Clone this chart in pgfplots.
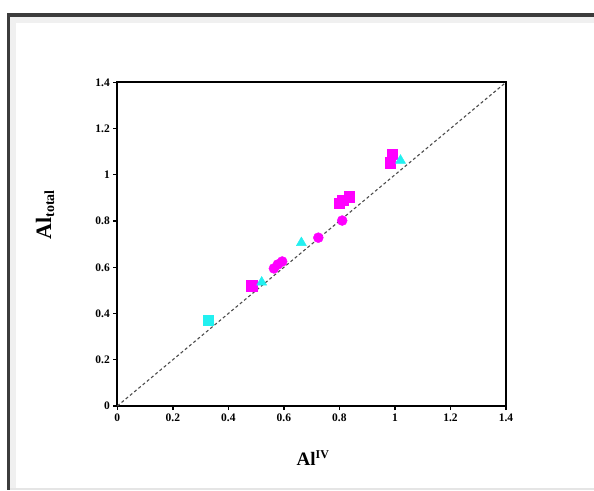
\documentclass[border=0pt]{standalone}
\usepackage{pgfplots}
\pgfplotsset{compat=1.18}
\usepackage{fontspec}
\setmainfont{Liberation Serif}
\definecolor{mag}{HTML}{FF00FF}
\definecolor{cya}{HTML}{22F0F0}
\definecolor{frame}{HTML}{3C3C3C}
\begin{document}
\begin{tikzpicture}[x=1pt,y=1pt]
\useasboundingbox (0,0) rectangle (594,490);
\fill[white] (0,0) rectangle (594,490);
% window frame
\fill[gray!12] (10,0) rectangle (16,473);
\fill[gray!12] (10,467) rectangle (594,473);
\fill[frame] (7,0) rectangle (10,477);
\fill[frame] (7,473) rectangle (594,477);
\fill[gray!20] (10,0) rectangle (594,2.5);
\begin{axis}[
  at={(117.3pt,84pt)}, anchor=south west,
  scale only axis, width=388.7pt, height=323.7pt,
  xmin=0, xmax=1.4, ymin=0, ymax=1.4,
  axis line style={line width=1.8pt},
  xtick={0,0.2,0.4,0.6,0.8,1,1.2,1.4},
  ytick={0,0.2,0.4,0.6,0.8,1,1.2,1.4},
  xticklabels={0,0.2,0.4,0.6,0.8,1,1.2,1.4},
  yticklabels={0,0.2,0.4,0.6,0.8,1,1.2,1.4},
  tick align=outside, tick pos=left,
  major tick length=4pt,
  tick style={line width=1.4pt, black},
  ticklabel style={font=\bfseries\fontsize{11.5}{11.5}\selectfont},
  xlabel={{\fontsize{19}{19}\selectfont\bfseries Al}{\fontsize{12}{12}\selectfont\bfseries\raisebox{7pt}{IV}}},
  xlabel style={at={(axis description cs:0.503,-0.16)}, anchor=center},
  ylabel={{\fontsize{22}{22}\selectfont\bfseries Al}{\fontsize{14}{14}\selectfont\bfseries\raisebox{-3pt}{total}}},
  ylabel style={at={(axis description cs:-0.186,0.59)}, anchor=center, rotate=0},
  clip=false,
]
\addplot[color=black!70, line width=1.1pt, dash pattern=on 3pt off 2.5pt] coordinates {(0,0) (1.4,1.4)};
% cyan squares
\addplot[only marks, mark=square*, mark size=5.2pt, color=cya] coordinates {(0.328,0.370)};
% magenta squares
\addplot[only marks, mark=square*, mark size=5.2pt, color=mag] coordinates {
 (0.484,0.520) (0.800,0.878) (0.812,0.890) (0.836,0.905) (0.982,1.052) (0.990,1.090)};
% magenta circles
\addplot[only marks, mark=*, mark size=5pt, color=mag] coordinates {
 (0.564,0.595) (0.578,0.612) (0.594,0.625) (0.724,0.728) (0.810,0.802)};
% cyan triangles
\addplot[only marks, mark=triangle*, mark size=5.8pt, color=cya] coordinates {
 (0.520,0.535) (0.663,0.706) (1.020,1.062)};
\end{axis}
\end{tikzpicture}
\end{document}
